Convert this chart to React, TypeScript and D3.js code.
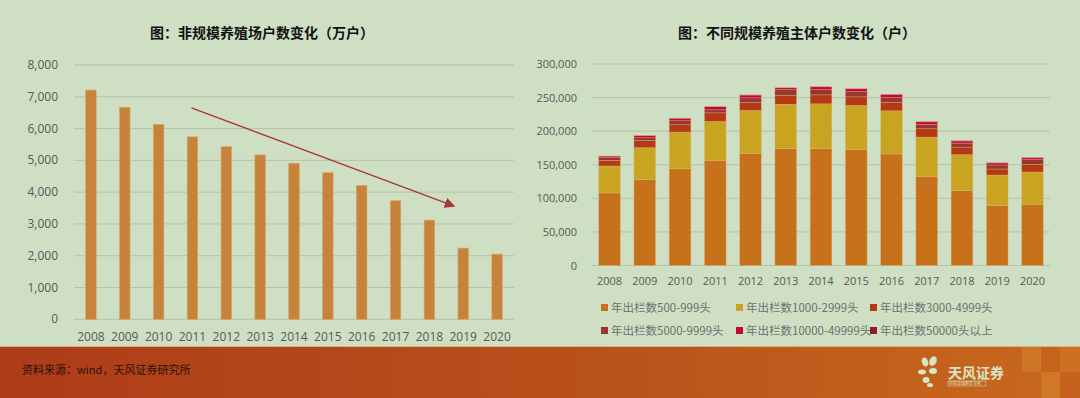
import React from "react";
import * as d3 from "d3";

const years = ["2008","2009","2010","2011","2012","2013","2014","2015","2016","2017","2018","2019","2020"];
const nonScaleFarms = [7210,6670,6130,5740,5430,5170,4910,4610,4210,3730,3120,2240,2050];
const leftTicks = [0,1000,2000,3000,4000,5000,6000,7000,8000];

const seriesNames = ["年出栏数500-999头","年出栏数1000-2999头","年出栏数3000-4999头","年出栏数5000-9999头","年出栏数10000-49999头","年出栏数50000头以上"];
const seriesColors = ["#c8711b","#c9a420","#b43a15","#97362a","#c6043e","#8a1b33"];
const s500 = [108000,127900,144200,156600,167000,173900,174400,172900,166000,132800,111600,89300,91300];
const s1000 = [40100,47500,54400,57800,63800,66200,66300,65300,64300,58300,53400,45400,47900];
const s3000 = [8500,10800,11000,12900,11800,13400,13400,12900,12300,12500,11300,9000,11400];
const s5000 = [4000,4000,5900,4500,7000,8400,7800,7900,7400,6400,5900,5900,7000];
const s10000 = [2300,3250,3720,4700,4170,2740,4200,4100,4650,4000,3150,3000,2800];
const s50000 = [100,150,180,200,230,260,300,300,350,400,450,500,600];
const rightTicks = [0,50000,100000,150000,200000,250000,300000];

const BG = "#cedfc3";
const GRID = "#b4c3a9";
const TXT = "#595959";
const FONT = "'Noto Sans CJK SC', 'Noto Sans', sans-serif";
const NUMFONT = "'Open Sans', 'Noto Sans', sans-serif";

export default function App() {
  const lx = d3.scaleBand<string>().domain(years).range([74, 514]).paddingInner(0.69).paddingOuter(0.345);
  const ly = d3.scaleLinear().domain([0, 8000]).range([319.3, 65]);
  const fmt = d3.format(",");

  const rx = d3.scaleBand<string>().domain(years).range([592, 1050]).paddingInner(0.385).paddingOuter(0.19);
  const ry = d3.scaleLinear().domain([0, 300000]).range([265.5, 64]);
  const table = years.map((y, i) => ({
    year: y,
    k0: s500[i], k1: s1000[i], k2: s3000[i], k3: s5000[i], k4: s10000[i], k5: s50000[i],
  }));
  const keys = ["k0","k1","k2","k3","k4","k5"];
  const stacked = d3.stack<any>().keys(keys)(table);

  const ax1 = (lx("2011") as number) + lx.bandwidth() / 2 - 1;
  const ay1 = ly(6650);
  const ax2 = (lx("2019") as number) + lx.bandwidth() / 2 - 9;
  const ay2 = ly(3560);

  const legendX = [601, 736, 870];
  const legendY = [308, 331];

  return (
    <svg width={1080} height={398} style={{ position: "absolute", left: 0, top: 0, display: "block" }}>
      <defs>
        <linearGradient id="foot" x1="0" x2="1" y1="0" y2="0">
          <stop offset="0" stopColor="#ad3c19" />
          <stop offset="0.55" stopColor="#b9511b" />
          <stop offset="1" stopColor="#c8691e" />
        </linearGradient>
        <marker id="ah" viewBox="0 0 10 10" refX="9" refY="5" markerWidth="7" markerHeight="7" orient="auto">
          <path d="M0,0 L10,5 L0,10 z" fill="#a43b36" />
        </marker>
      </defs>
      <rect x={0} y={0} width={1080} height={398} fill={BG} />

      <text x={262} y={38} textAnchor="middle" fontFamily={FONT} fontWeight="bold" fontSize={14} fill="#111">图：非规模养殖场户数变化（万户）</text>

      {leftTicks.map((t) => (
        <g key={"lt" + t}>
          <line x1={74} x2={514} y1={ly(t)} y2={ly(t)} stroke={GRID} strokeWidth={1} />
          <text x={58} y={ly(t) + 4} textAnchor="end" fontFamily={NUMFONT} fontSize={12} fill={TXT}>{fmt(t)}</text>
        </g>
      ))}
      {years.map((y, i) => (
        <rect key={"lb" + y} x={lx(y)} y={ly(nonScaleFarms[i])} width={lx.bandwidth()} height={ly(0) - ly(nonScaleFarms[i])}
          fill="#c8833a" stroke="#d6a46a" strokeWidth={0.6} />
      ))}
      {years.map((y) => (
        <text key={"lx" + y} x={(lx(y) as number) + lx.bandwidth() / 2} y={341} textAnchor="middle" fontFamily={NUMFONT} fontSize={12} fill={TXT}>{y}</text>
      ))}
      <line x1={ax1} y1={ay1} x2={ax2} y2={ay2} stroke="#a43b36" strokeWidth={1.5} markerEnd="url(#ah)" />

      <text x={797} y={38} textAnchor="middle" fontFamily={FONT} fontWeight="bold" fontSize={14} fill="#111">图：不同规模养殖主体户数变化（户）</text>

      {rightTicks.map((t) => (
        <g key={"rt" + t}>
          <line x1={592} x2={1050} y1={ry(t)} y2={ry(t)} stroke={GRID} strokeWidth={1} />
          <text x={577} y={ry(t) + 4} textAnchor="end" fontFamily={NUMFONT} fontSize={11} fill={TXT}>{fmt(t)}</text>
        </g>
      ))}
      {stacked.map((layer, li) => (
        <g key={"layer" + li}>
          {layer.map((d: any) => (
            <rect key={d.data.year} x={rx(d.data.year)} y={ry(d[1])} width={rx.bandwidth()} height={Math.max(0, ry(d[0]) - ry(d[1]))}
              fill={seriesColors[li]} stroke="#e2b98a" strokeOpacity={0.55} strokeWidth={0.6} />
          ))}
        </g>
      ))}
      {years.map((y) => (
        <text key={"rx" + y} x={(rx(y) as number) + rx.bandwidth() / 2} y={285} textAnchor="middle" fontFamily={NUMFONT} fontSize={11} fill={TXT}>{y}</text>
      ))}

      {seriesNames.map((n, i) => {
        const x = legendX[i % 3];
        const y = legendY[Math.floor(i / 3)];
        return (
          <g key={"lg" + i}>
            <rect x={x} y={y - 4} width={7} height={7} fill={seriesColors[i]} />
            <text x={x + 10} y={y + 4} fontFamily={FONT} fontSize={11.5} fill="#707070">{n}</text>
          </g>
        );
      })}

      <rect x={0} y={346} width={1080} height={52} fill="url(#foot)" />
      <line x1={0} x2={1080} y1={346.5} y2={346.5} stroke="#d9b27d" strokeWidth={1} />
      <rect x={1022} y={347} width={19} height={25} fill="#d98a30" opacity={0.45} />
      <rect x={1041} y={347} width={19} height={25} fill="#c4601a" opacity={0.45} />
      <rect x={1060} y={347} width={20} height={25} fill="#d47a28" opacity={0.45} />
      <rect x={1022} y={372} width={19} height={26} fill="#c8661c" opacity={0.45} />
      <rect x={1041} y={372} width={19} height={26} fill="#dc8e34" opacity={0.45} />
      <rect x={1060} y={372} width={20} height={26} fill="#c2591a" opacity={0.45} />
      <text x={22} y={374} fontFamily={FONT} fontSize={11} fill="#2a1208">资料来源：wind，天风证券研究所</text>

      <g fill="#d6e6c6">
        <ellipse cx={925} cy={362} rx={3} ry={4.5} transform="rotate(-20 925 362)" />
        <ellipse cx={933} cy={361} rx={3.5} ry={5} transform="rotate(25 933 361)" />
        <ellipse cx={922} cy={372} rx={4} ry={2.5} />
        <ellipse cx={933} cy={371} rx={4} ry={3} />
        <ellipse cx={926} cy={380} rx={3.5} ry={3} />
        <ellipse cx={930} cy={385} rx={3} ry={2} />
      </g>
      <text x={948} y={378} fontFamily={FONT} fontWeight="bold" fontSize={14} fill="#d6e6c6">天风证券</text>
      <rect x={948} y={381} width={38} height={5} fill="none" stroke="#d6e6c6" strokeWidth={0.5} />
      <text x={949} y={385.3} fontFamily={FONT} fontSize={4} fill="#d6e6c6">财富金融服务专家</text>
    </svg>
  );
}
